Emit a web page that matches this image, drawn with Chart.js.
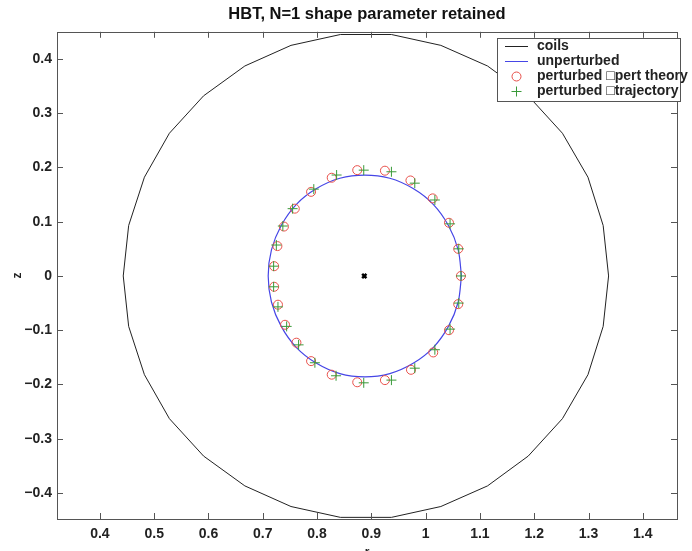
<!DOCTYPE html>
<html>
<head>
<meta charset="utf-8">
<script src="https://cdn.jsdelivr.net/npm/chart.js@4.4.1/dist/chart.umd.min.js"></script>
<style>
  body { margin: 0; background: #fff; }
  canvas { display: block; }
</style>
</head>
<body>
<canvas id="c" width="692" height="551"></canvas>
<script>
"use strict";

// coil outline (polygon)
const coilR = [1.337, 1.327, 1.299, 1.252, 1.189, 1.114, 1.028, 0.937, 0.843, 0.752, 0.667, 0.591, 0.528, 0.482, 0.453,
  0.443, 0.453, 0.482, 0.528, 0.591, 0.667, 0.752, 0.843, 0.937, 1.028, 1.114, 1.189, 1.252, 1.299, 1.327, 1.337];
const coilZ = [0, 0.093, 0.182, 0.263, 0.332, 0.387, 0.425, 0.445, 0.445, 0.425, 0.387, 0.332, 0.263, 0.182, 0.093,
  0, -0.093, -0.182, -0.263, -0.332, -0.387, -0.425, -0.445, -0.445, -0.425, -0.387, -0.332, -0.263, -0.182, -0.093, 0];

// unperturbed surface
const unpR = [1.066, 1.060, 1.042, 1.014, 0.977, 0.934, 0.888, 0.842, 0.799, 0.762, 0.734, 0.716, 0.710,
  0.716, 0.734, 0.762, 0.799, 0.842, 0.888, 0.934, 0.977, 1.014, 1.042, 1.060, 1.066];
const unpZ = [0, 0.048, 0.093, 0.132, 0.161, 0.180, 0.186, 0.180, 0.161, 0.132, 0.093, 0.048, 0,
  -0.048, -0.093, -0.132, -0.161, -0.180, -0.186, -0.180, -0.161, -0.132, -0.093, -0.048, 0];

// perturbed, pert theory (circles)
const ptR = [0.874, 0.925, 0.972, 1.013, 1.043, 1.060, 1.065, 1.060, 1.043, 1.014, 0.973, 0.925, 0.874,
  0.827, 0.789, 0.762, 0.741, 0.728, 0.721, 0.721, 0.727, 0.739, 0.759, 0.789, 0.827];
const ptZ = [0.195, 0.194, 0.176, 0.143, 0.098, 0.050, 0.000, -0.052, -0.100, -0.141, -0.173, -0.192, -0.196,
  -0.182, -0.157, -0.123, -0.090, -0.053, -0.020, 0.018, 0.055, 0.091, 0.124, 0.155, 0.181];

// perturbed, trajectory (plus signs)
const trR = [0.886, 0.937, 0.980, 1.017, 1.045, 1.061, 1.065, 1.061, 1.045, 1.017, 0.980, 0.937, 0.886,
  0.835, 0.796, 0.766, 0.744, 0.728, 0.720, 0.720, 0.725, 0.737, 0.755, 0.794, 0.836];
const trZ = [0.195, 0.192, 0.171, 0.140, 0.096, 0.050, 0.000, -0.050, -0.098, -0.136, -0.170, -0.192, -0.197,
  -0.184, -0.160, -0.127, -0.093, -0.057, -0.020, 0.018, 0.057, 0.092, 0.124, 0.160, 0.186];

// magnetic axis
const axisR = [0.887];
const axisZ = [0];

const xTicks = [0.4, 0.5, 0.6, 0.7, 0.8, 0.9, 1, 1.1, 1.2, 1.3, 1.4];
const yTicks = [-0.4, -0.3, -0.2, -0.1, 0, 0.1, 0.2, 0.3, 0.4];

const pts = (r, z) => r.map((v, i) => ({ x: v, y: z[i] }));

const FONT = "'Liberation Sans', Arial, Helvetica, sans-serif";

// box round the plot with matlab style inward ticks
const frame = {
  id: "frame",
  afterDraw(chart) {
    const { ctx, chartArea: a } = chart;
    const xs = chart.scales.x, ys = chart.scales.y;
    ctx.save();
    ctx.strokeStyle = "#555";
    ctx.lineWidth = 1;
    ctx.strokeRect(Math.round(a.left) + 0.5, Math.round(a.top) + 0.5,
      Math.round(a.right - a.left), Math.round(a.bottom - a.top));
    ctx.beginPath();
    xTicks.forEach((t) => {
      const px = Math.round(xs.getPixelForValue(t)) + 0.5;
      ctx.moveTo(px, a.bottom); ctx.lineTo(px, a.bottom - 6);
      ctx.moveTo(px, a.top); ctx.lineTo(px, a.top + 6);
    });
    yTicks.forEach((t) => {
      const py = Math.round(ys.getPixelForValue(t)) + 0.5;
      ctx.moveTo(a.left, py); ctx.lineTo(a.left + 6, py);
      ctx.moveTo(a.right, py); ctx.lineTo(a.right - 6, py);
    });
    ctx.stroke();
    ctx.restore();
  },
};

// legend drawn inside the axes, top right
const boxLegend = {
  id: "boxLegend",
  afterDraw(chart) {
    const ctx = chart.ctx;
    const x0 = 497.5, y0 = 38.5, w = 183, h = 63;
    ctx.save();
    ctx.fillStyle = "#fff";
    ctx.fillRect(x0, y0, w, h);
    ctx.strokeStyle = "#555";
    ctx.lineWidth = 1;
    ctx.strokeRect(x0, y0, w, h);
    ctx.font = "bold 14px " + FONT;
    ctx.textBaseline = "middle";
    let y = 46;
    chart.data.datasets.forEach((ds) => {
      if (!ds.label) return;
      ctx.strokeStyle = ds.borderColor;
      ctx.fillStyle = "rgba(0,0,0,0)";
      ctx.lineWidth = 1;
      if (ds.showLine) {
        ctx.beginPath();
        ctx.moveTo(505, y + 0.5); ctx.lineTo(528, y + 0.5);
        ctx.stroke();
      } else {
        Chart.helpers.drawPoint(ctx, {
          pointStyle: ds.pointStyle, radius: ds.pointRadius, borderWidth: 1,
          rotation: 0,
        }, 516.5, y + 0.5);
      }
      ctx.fillStyle = "#222";
      ctx.fillText(ds.label, 537, y);
      y += 15;
    });
    ctx.restore();
  },
};

// matlab style numbers: 0.4, 1, -0.1 with a real minus sign
const fmt = (v) => String(Math.round(v * 10) / 10).replace("-", "\u2212");

new Chart(document.getElementById("c"), {
  type: "scatter",
  data: {
    datasets: [
      {
        label: "coils",
        data: pts(coilR, coilZ),
        showLine: true,
        borderColor: "#222",
        borderWidth: 1,
        pointRadius: 0,
        tension: 0,
        order: 3,
      },
      {
        label: "unperturbed",
        data: pts(unpR, unpZ),
        showLine: true,
        borderColor: "#4646e6",
        borderWidth: 1.2,
        pointRadius: 0,
        tension: 0.3,
        order: 2,
      },
      {
        label: "perturbed \u25A1pert theory",
        data: pts(ptR, ptZ),
        showLine: false,
        pointStyle: "circle",
        pointRadius: 4.5,
        borderColor: "#e8504a",
        backgroundColor: "rgba(0,0,0,0)",
        borderWidth: 1,
        order: 1,
      },
      {
        label: "perturbed \u25A1trajectory",
        data: pts(trR, trZ),
        showLine: false,
        pointStyle: "cross",
        pointRadius: 5,
        borderColor: "#3a9a3a",
        borderWidth: 1,
        order: 0,
      },
      {
        label: "",
        data: pts(axisR, axisZ),
        showLine: false,
        pointStyle: "crossRot",
        pointRadius: 3,
        borderColor: "#000",
        borderWidth: 2.5,
        order: 0,
      },
    ],
  },
  options: {
    responsive: false,
    animation: false,
    events: [],
    layout: { padding: { left: 0, right: 15, top: 0, bottom: 0 } },
    plugins: {
      legend: { display: false },
      tooltip: { enabled: false },
      title: {
        display: true,
        fullSize: false,
        text: "HBT, N=1 shape parameter retained",
        color: "#111",
        font: { family: FONT, size: 16.5, weight: "bold", lineHeight: 1.2 },
        padding: { top: 5, bottom: 7 },
      },
    },
    scales: {
      x: {
        type: "linear",
        min: 0.321,
        max: 1.463,
        grid: { display: false, drawTicks: false },
        border: { display: false },
        ticks: {
          stepSize: 0.1,
          includeBounds: false,
          autoSkip: false,
          padding: 7,
          color: "#222",
          maxRotation: 0,
          font: { family: FONT, size: 14, weight: "bold" },
          callback: fmt,
        },
        title: {
          display: true,
          text: "r",
          color: "#222",
          font: { family: FONT, size: 12, weight: "bold" },
          padding: { top: 0, bottom: -9 },
        },
        afterFit(scale) { scale.height = 32; },
      },
      y: {
        type: "linear",
        min: -0.448,
        max: 0.45,
        grid: { display: false, drawTicks: false },
        border: { display: false },
        ticks: {
          stepSize: 0.1,
          includeBounds: false,
          autoSkip: false,
          padding: 5,
          color: "#222",
          font: { family: FONT, size: 14, weight: "bold" },
          callback: fmt,
        },
        title: {
          display: true,
          text: "z",
          color: "#222",
          font: { family: FONT, size: 12, weight: "bold" },
          padding: { top: 10, bottom: 0 },
        },
        afterFit(scale) { scale.width = 57; },
      },
    },
  },
  plugins: [frame, boxLegend],
});
</script>
</body>
</html>
